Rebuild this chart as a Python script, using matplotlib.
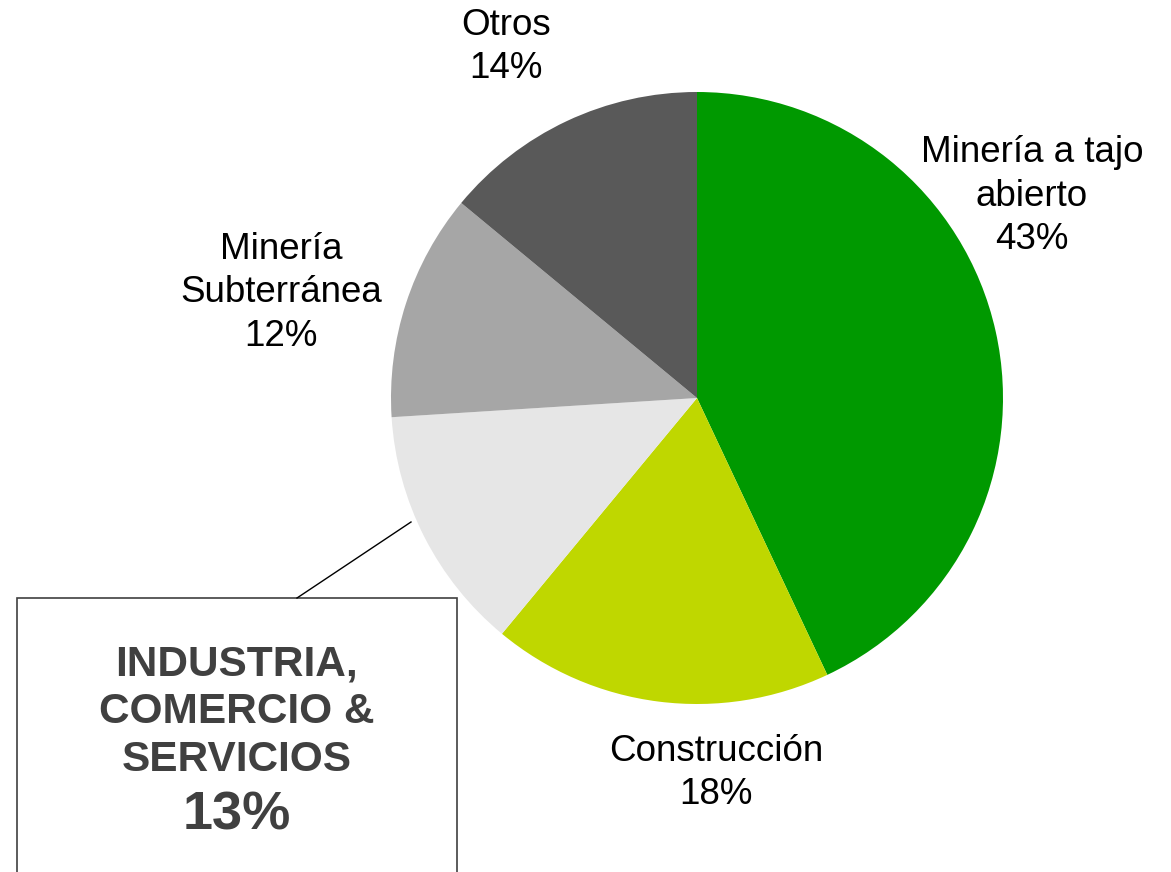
import matplotlib.pyplot as plt
from matplotlib.patches import Rectangle

plt.rcParams['font.family'] = ['Liberation Sans', 'DejaVu Sans']

# Datos del gráfico
sectores = ['Minería a tajo\nabierto', 'Construcción', 'INDUSTRIA,\nCOMERCIO &\nSERVICIOS',
            'Minería\nSubterránea', 'Otros']
porcentajes = [43, 18, 13, 12, 14]
colores = ['#009900', '#BFD700', '#E6E6E6', '#A6A6A6', '#595959']

W, H = 1171, 872
fig = plt.figure(figsize=(W / 100, H / 100), dpi=100)
ax = fig.add_axes([0, 0, 1, 1])

# Pastel (coordenadas en píxeles, y hacia arriba)
ax.pie(porcentajes, colors=colores, startangle=90, counterclock=False,
       center=(697, H - 398), radius=306, frame=True,
       wedgeprops=dict(linewidth=0))
ax.set_xlim(0, W)
ax.set_ylim(0, H)
ax.set_aspect('equal')
ax.axis('off')

# Etiquetas de las porciones (posición de cada rótulo)
pos_etiquetas = {0: (1032, 196), 1: (716, 773), 3: (281, 293), 4: (506, 47)}
for i, (x, y) in pos_etiquetas.items():
    ax.text(x, H - y, f"{sectores[i]}\n{porcentajes[i]}%", ha='center', va='center',
            fontsize=26.5, color='black', linespacing=1.3)

# Recuadro destacado para Industria
ax.add_patch(Rectangle((17, -20), 440, H - 598 + 20, facecolor='white',
                       edgecolor='#404040', linewidth=1.2, clip_on=False))
ax.plot([411, 297], [H - 522, H - 598], color='black', linewidth=1)
ax.text(237, H - 712, sectores[2], ha='center', va='center', fontsize=30.5,
        fontweight='bold', color='#404040', linespacing=1.25)
ax.text(237, H - 815, f"{porcentajes[2]}%", ha='center', va='center', fontsize=39,
        fontweight='bold', color='#404040')

fig.savefig('out.png', dpi=100)
